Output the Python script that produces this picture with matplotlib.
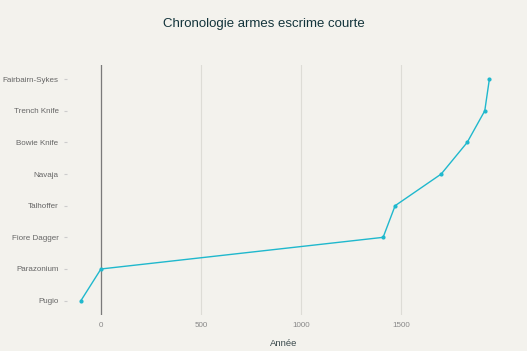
import matplotlib.pyplot as plt
import numpy as np

# Chronologie des armes d'escrime courte
weapons = ['Pugio', 'Parazonium', 'Fiore Dagger', 'Talhoffer', 'Navaja',
           'Bowie Knife', 'Trench Knife', 'Fairbairn-Sykes']
years = [-100, 0, 1410, 1470, 1700, 1830, 1918, 1941]

bg = '#f3f2ed'
teal = '#1fb8cd'

plt.rcParams['font.family'] = ['Liberation Sans', 'DejaVu Sans']

fig = plt.figure(figsize=(5.27, 3.51), dpi=100, facecolor=bg)
ax = fig.add_axes([0.127, 0.103, 0.824, 0.712], facecolor=bg)

y = np.arange(len(weapons))
ax.plot(years, y, color=teal, lw=1, marker='o', ms=2, zorder=3)

ax.set_xlim(-170, 2000)
ax.set_ylim(-0.45, len(weapons) - 0.55)
ax.set_xticks([0, 500, 1000, 1500])
ax.set_yticks(y)
ax.set_yticklabels(weapons)

ax.grid(axis='x', color='#dddcd6', lw=0.8)
ax.axvline(0, color='#7a7a7a', lw=0.9, zorder=2)
for s in ax.spines.values():
    s.set_visible(False)

ax.tick_params(axis='x', length=0, labelsize=5.8, colors='#888888', pad=5)
ax.tick_params(axis='y', length=2, color='#cccccc', labelsize=5.8,
               labelcolor='#666666', pad=4)

ax.set_xlabel('Année', fontsize=6.8, color='#3b4a4d', labelpad=7)
fig.suptitle('Chronologie armes escrime courte', fontsize=9.5, color='#13343b',
             y=0.95, fontweight='medium')

fig.savefig('out.png', dpi=100, facecolor=bg)
